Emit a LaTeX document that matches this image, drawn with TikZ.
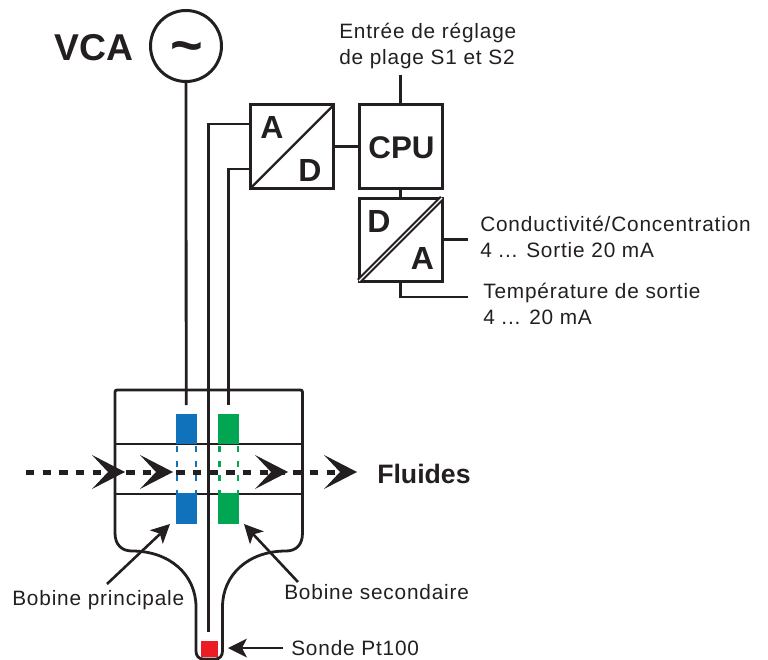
\documentclass[tikz,border=0pt]{standalone}
\usepackage{fontspec}
\setmainfont{Liberation Sans}
\newfontfamily\lblfont[LetterSpace=4]{Liberation Sans}
\definecolor{ink}{HTML}{231F20}
\definecolor{coilblue}{HTML}{0F72BA}
\definecolor{coilgreen}{HTML}{00A651}
\definecolor{probered}{HTML}{ED1C24}
\tikzset{
  x=0.75pt,y=-0.75pt,
  wire/.style={draw=ink,line width=2.8*0.75pt},
  lbox/.style={draw=ink,line width=3*0.75pt,minimum width=83*0.75pt,minimum height=83*0.75pt,inner sep=0pt,outer sep=0pt},
  big/.style={font=\bfseries\fontsize{24}{28}\selectfont,text=ink,inner sep=0pt},
  lbl/.style={font=\lblfont\fontsize{15.6}{19.5}\selectfont,text=ink,inner sep=0pt,align=left,anchor=west},
  coil/.style={inner sep=0pt,outer sep=0pt,minimum width=21*0.75pt},
  pointer/.style={draw=ink,line width=2.6*0.75pt},
  coildash/.style={line width=2.2*0.75pt,dash pattern=on 6*0.75pt off 8.6*0.75pt},
}
\newcommand{\flowhead}[1]{\fill[ink] (#1,472) -- (#1-33,455) -- (#1-17,472) -- (#1-33,489) -- cycle;}
\newcommand{\ptrhead}[3]{\fill[ink,shift={(#1,#2)},rotate=#3] (0,0) -- (-19,9.5) -- (-14,0) -- (-19,-9.5) -- cycle;}
\begin{document}
\begin{tikzpicture}
\useasboundingbox (0,0) rectangle (768,660);
% vessel
\draw[wire,rounded corners=1.5pt] (115,533) -- (115,390) -- (302.5,390) -- (302.5,533);
\draw[wire] (115,533) .. controls (115,545) and (122,551) .. (132,551)
  .. controls (170,551) and (196,575) .. (196,607) -- (196,651)
  .. controls (196,656) and (199,659) .. (203,659) -- (215.5,659)
  .. controls (219.5,659) and (222.5,656) .. (222.5,651) -- (222.5,607)
  .. controls (222.5,575) and (248,551) .. (286,551)
  .. controls (296,551) and (302.5,545) .. (302.5,533);
\draw[wire] (115,444) -- (302.5,444);
\draw[wire] (115,494) -- (302.5,494);
% coils
\node[coil,fill=coilblue,minimum height=30*0.75pt] (b1) at (186.2,429) {};
\node[coil,fill=coilblue,minimum height=31*0.75pt] (b2) at (186.2,508.5) {};
\node[coil,fill=coilgreen,minimum height=30*0.75pt] (g1) at (228.5,429) {};
\node[coil,fill=coilgreen,minimum height=31*0.75pt] (g2) at (228.5,508.5) {};
\draw[coilblue,coildash] (176.8,446) -- (176.8,493);
\draw[coilblue,coildash] (195.6,446) -- (195.6,493);
\draw[coilgreen,coildash] (219.4,446) -- (219.4,493);
\draw[coilgreen,coildash] (238,446) -- (238,493);
\node[fill=probered,inner sep=0pt,minimum width=16.5*0.75pt,minimum height=16*0.75pt] (probe) at (209.3,649) {};
% flow
\draw[ink,line width=5*0.75pt,dash pattern=on 8.3*0.75pt off 8.4*0.75pt] (26,472) -- (335,472);
\flowhead{125}\flowhead{173}\flowhead{288}\flowhead{357}
% source
\node[draw=ink,circle,line width=3*0.75pt,minimum size=71*0.75pt,inner sep=0pt,outer sep=0pt] (vca) at (186,46) {};
\node[font=\bfseries\fontsize{42}{42}\selectfont,text=ink,inner sep=0pt] at (186.5,53) {\char"007E};
\node[font=\bfseries\fontsize{28}{30}\selectfont,text=ink,inner sep=0pt,anchor=east] (vcat) at (134,48) {VCA};
% boxes
\node[lbox] (ad) at (292.2,146.5) {};
\node[lbox] (cpu) at (400.5,146.5) {};
\node[lbox] (da) at (400.5,239.5) {};
\node[font=\bfseries\fontsize{23.5}{28}\selectfont,text=ink,inner sep=0pt] at (401.5,148) {CPU};
\draw[ink,line width=2.2*0.75pt] (ad.south west) -- (ad.north east);
\draw[ink,line width=5.5*0.75pt] (da.south west) -- (da.north east);
\draw[white,line width=1.2*0.75pt] (da.south west) -- (da.north east);
\node[big] at (272,127) {A};
\node[big] at (310,170.5) {D};
\node[big] at (379,221) {D};
\node[big] at (422.5,258) {A};
% wiring
\coordinate (bw) at (186.2,405);
\coordinate (gw) at (228.2,405);
\coordinate (pw) at (208.3,632);
\coordinate (cin) at (400.5,75);
\coordinate (o1) at (468,239.5);
\coordinate (o2) at (468,297);
\draw[wire] (vca.south) -- (bw);
\draw[wire] (ad.west |- 0,124) -- (208.3,124) -- (pw);
\draw[wire] (ad.west |- 0,169) -- (228.2,169) -- (gw);
\draw[wire] (ad.east) -- (cpu.west);
\draw[wire] (cin) -- (cpu.north);
\draw[wire] (cpu.south) -- (da.north);
\draw[wire] (da.east) -- (o1);
\draw[wire] (da.south) -- (400.5,297) -- (o2);
% labels
\node[lbl] at (339,46.5) {Entrée de réglage\\de plage S1 et S2};
\node[lbl] at (480,237) {Conductivité/Concentration\\4 ... Sortie 20 mA};
\node[lbl] at (483,304) {Température de sortie\\4 ... 20 mA};
\node[font=\bfseries\fontsize{20}{22}\selectfont,text=ink,inner sep=0pt,anchor=west] at (377,474) {Fluides};
\node[lbl] (lp) at (12,600) {Bobine principale};
\node[lbl] (ls) at (284,592) {Bobine secondaire};
\node[lbl] (lt) at (291,648) {Sonde Pt100};
% pointers
\coordinate (p1) at (107,584);
\coordinate (p2) at (298,582);
\coordinate (p3) at (283,648);
\draw[pointer] (p1) -- (160,534);
\draw[pointer] (p2) -- (253,534);
\draw[pointer] (p3) -- (240,648);
\ptrhead{170}{524}{43.6}
\ptrhead{244}{524}{133}
\ptrhead{228}{648}{180}
\end{tikzpicture}
\end{document}
